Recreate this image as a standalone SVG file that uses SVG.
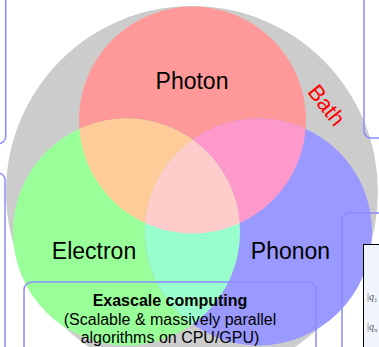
<svg xmlns="http://www.w3.org/2000/svg" width="379" height="347" viewBox="0 0 379 347">
<style>
.lbl{font-family:"Liberation Sans",Arial,sans-serif;font-size:23px;fill:#000;text-anchor:middle}
.box{fill:none;stroke:#8a8aff;stroke-width:1.5}
.t16{font-family:"Liberation Sans",Arial,sans-serif;font-size:16px;fill:#000;text-anchor:middle}
.q{font-family:"Liberation Serif","Times New Roman",serif;font-size:10px;fill:#555}
</style>
<defs>
<clipPath id="cr"><circle cx="192.5" cy="120" r="113.5"/></clipPath>
<clipPath id="cg"><circle cx="126.5" cy="232" r="113.5"/></clipPath>
<clipPath id="cb"><circle cx="258.5" cy="232" r="113.5"/></clipPath>
</defs>
<rect width="379" height="347" fill="#fff"/>
<g id="bath">
<circle cx="192" cy="192" r="186" fill="#cccccc"/>
<text x="327" y="113" transform="rotate(52 327 105)" font-family="Liberation Sans,Arial,sans-serif" font-size="22" fill="#ff0000" text-anchor="middle">Bath</text>
</g>
<g id="photon"><circle cx="192.5" cy="120" r="113.5" fill="#ff9999"/></g>
<g id="electron"><circle cx="126.5" cy="232" r="113.5" fill="#99ff99"/></g>
<g id="phonon"><circle cx="258.5" cy="232" r="113.5" fill="#9999ff"/></g>
<g id="overlaps">
<circle cx="126.5" cy="232" r="113.5" fill="#ffcc99" clip-path="url(#cr)"/>
<circle cx="258.5" cy="232" r="113.5" fill="#ff99cc" clip-path="url(#cr)"/>
<circle cx="258.5" cy="232" r="113.5" fill="#99ffcc" clip-path="url(#cg)"/>
<g clip-path="url(#cr)"><circle cx="258.5" cy="232" r="113.5" fill="#ffcccc" clip-path="url(#cg)"/></g>
</g>
<g id="labels">
<text class="lbl" x="192" y="89">Photon</text>
<text class="lbl" x="94" y="259">Electron</text>
<text class="lbl" x="290.5" y="259">Phonon</text>
</g>
<g id="box-top-left"><rect class="box" x="-100" y="-20" width="105.7" height="163.5" rx="7"/></g>
<g id="box-left"><rect class="box" x="-100" y="173" width="105" height="250" rx="7"/></g>
<g id="box-top-right"><rect class="box" x="364" y="-20" width="100" height="158" rx="7"/></g>
<g id="box-right">
<rect class="box" x="342" y="213" width="100" height="250" rx="7"/>
<rect x="363.5" y="244.5" width="60" height="150" fill="#f0f4fc" stroke="#000" stroke-width="1"/>
<text class="q" x="367" y="300">|<tspan font-style="italic">q</tspan><tspan font-size="7" dy="2">1</tspan></text>
<text class="q" x="367" y="330">|<tspan font-style="italic">q</tspan><tspan font-size="7" dy="2" font-style="italic">n</tspan></text>
</g>
<g id="exascale">
<rect class="box" x="24" y="282" width="292" height="120" rx="8"/>
<text class="t16" x="170" y="306" font-weight="bold">Exascale computing</text>
<text class="t16" x="170" y="325">(Scalable &amp; massively parallel</text>
<text class="t16" x="170" y="343">algorithms on CPU/GPU)</text>
</g>
<g id="connectors"/>
</svg>
